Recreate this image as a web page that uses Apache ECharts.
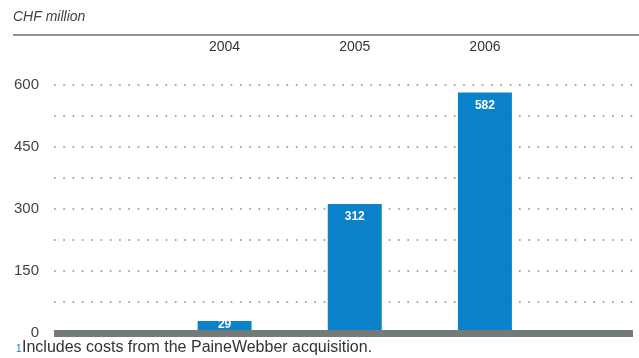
<!DOCTYPE html>
<html>
<head>
<meta charset="utf-8">
<script src="https://cdn.jsdelivr.net/npm/echarts@6/dist/echarts.min.js"></script>
<style>
  html, body { margin: 0; padding: 0; background: #fff; }
  #chart { width: 639px; height: 358px; }
</style>
</head>
<body>
<div id="chart"></div>
<script>
// Costs by year, CHF million
const years = ['2004', '2005', '2006'];
const costs = [29, 312, 582];
const yTicks = [0, 150, 300, 450, 600];

const FONT = 'Liberation Sans';
const chart = echarts.init(document.getElementById('chart'), null, { renderer: 'canvas' });

// a short bar leaves little room, so its label hugs the top edge
const barData = costs.map(v => (v < 60 ? { value: v, label: { distance: -2 } } : v));

chart.setOption({
  animation: false,
  backgroundColor: '#ffffff',
  grid: [
    // full-width grid carrying the value scale and dotted guides
    { left: 54, right: 6, top: 85, bottom: 25 },
    // narrower grid holding the three bars
    { left: 159.5, right: 89, top: 85, bottom: 25 }
  ],
  xAxis: [
    {
      gridIndex: 0, type: 'value', min: 0, max: 1, position: 'bottom', z: 5,
      axisLine: { show: true, onZero: false, lineStyle: { color: '#737c79', width: 7, cap: 'butt' } },
      axisTick: { show: false }, axisLabel: { show: false }, splitLine: { show: false }
    },
    {
      gridIndex: 1, type: 'category', data: years, position: 'top',
      axisLine: { show: false }, axisTick: { show: false }, splitLine: { show: false },
      axisLabel: { color: '#333', fontFamily: FONT, fontSize: 14, margin: 31 }
    }
  ],
  yAxis: [
    {
      gridIndex: 0, type: 'value', min: 0, max: 600, interval: 75,
      axisLine: { show: false }, axisTick: { show: false },
      axisLabel: {
        color: '#444', fontFamily: FONT, fontSize: 15, margin: 15,
        formatter: v => (yTicks.indexOf(v) >= 0 ? String(v) : '')
      },
      splitLine: {
        show: true,
        lineStyle: { color: '#a3a3a3', width: 2, type: [1.6, 7.7] }
      }
    },
    {
      gridIndex: 1, type: 'value', min: 0, max: 600, interval: 75,
      axisLine: { show: false }, axisTick: { show: false },
      axisLabel: { show: false }, splitLine: { show: false }
    }
  ],
  series: [
    {
      type: 'bar', xAxisIndex: 1, yAxisIndex: 1, data: barData,
      barWidth: 54, z: 2,
      itemStyle: { color: '#0a82ca' },
      label: {
        show: true, position: 'insideTop', distance: 7,
        color: '#ffffff', fontWeight: 'bold', fontFamily: FONT, fontSize: 12
      }
    }
  ],
  graphic: [
    {
      type: 'text', left: 13, top: 10,
      style: { text: 'CHF million', fill: '#444', font: 'italic 14px "Liberation Sans"' }
    },
    {
      type: 'line', shape: { x1: 13, y1: 35, x2: 639, y2: 35 },
      style: { stroke: '#8d9592', lineWidth: 2 }
    },
    {
      type: 'text', left: 16, top: 344,
      style: { text: '1', fill: '#0a82ca', font: '10px "Liberation Sans"' }
    },
    {
      type: 'text', left: 22, top: 340,
      style: { text: 'Includes costs from the PaineWebber acquisition.', fill: '#333', font: '16px "Liberation Sans"' }
    }
  ]
});
</script>
</body>
</html>
